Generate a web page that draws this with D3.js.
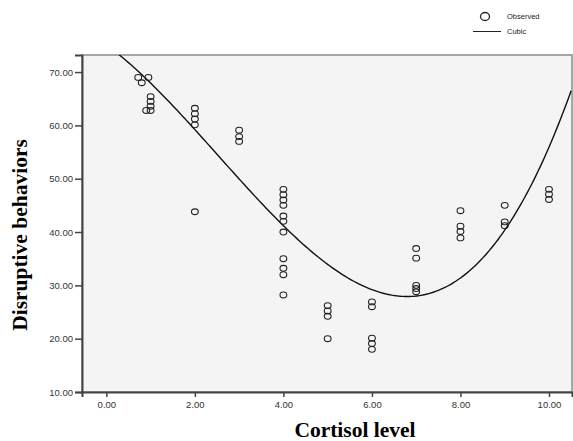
<!DOCTYPE html>
<html>
<head>
<meta charset="utf-8">
<script src="https://cdn.jsdelivr.net/npm/d3@7"></script>
<style>
  body { margin: 0; background: #fff; }
  svg { display: block; }
</style>
</head>
<body>
<svg id="chart" width="573" height="441"></svg>
<script>
// observed points (cortisol level, disruptive behaviors)
const cortisol = [0.72, 0.95, 0.8, 1.0, 1.0, 1.0, 1.0, 0.9, 2, 2, 2, 2, 2,
  3, 3, 3,
  4, 4, 4, 4, 4, 4, 4, 4, 4, 4, 4,
  5, 5, 5, 5,
  6, 6, 6, 6, 6,
  7, 7, 7, 7, 7,
  8, 8, 8, 8,
  9, 9, 9,
  10, 10, 10];
const behaviors = [69, 69, 68, 65.4, 64.5, 63.6, 62.8, 62.8, 63.2, 62.2, 61.2, 60.1, 43.8,
  59.1, 57.9, 57,
  48, 47, 46, 45, 43, 42, 40, 35, 33.2, 32, 28.2,
  26.2, 25.2, 24.2, 20,
  26.9, 26, 20.1, 19.1, 18,
  36.9, 35.1, 30, 29.4, 28.8,
  44, 41.1, 40.1, 38.9,
  45, 41.9, 41.2,
  48, 47.1, 46.1];

// points
const curveX = [0.3, 0.87, 1.93, 2.34, 2.79, 3.25, 4.0, 4.76, 5.51, 6.41, 7.17, 8.07, 8.83, 9.43, 9.88, 10.52];
const curveY = [73.2, 68.6, 60.4, 56.0, 52.0, 47.9, 41.0, 35.1, 31.0, 28.2, 28.2, 32.3, 38.5, 46.0, 53.5, 67.0];

const xTicks = [0, 2, 4, 6, 8, 10];
const yTicks = [10, 20, 30, 40, 50, 60, 70];
const xTitle = "Cortisol level";
const yTitle = "Disruptive behaviors";

const svg = d3.select("#chart");
const plotL = 82, plotR = 572, plotT = 55, plotB = 392;

const x = d3.scaleLinear().domain([-0.55, 10.52]).range([plotL, plotR]);
const y = d3.scaleLinear().domain([10, 73.2]).range([plotB, plotT]);

// plot background
svg.append("rect")
  .attr("x", plotL).attr("y", plotT)
  .attr("width", plotR - plotL).attr("height", plotB - plotT)
  .attr("fill", "#f4f4f4")
  .attr("stroke", "#8a8a8a").attr("stroke-width", 1.5);

// axes
const xAxis = svg.append("g")
  .attr("transform", `translate(0,${plotB})`)
  .call(d3.axisBottom(x).tickValues(xTicks).tickSize(5).tickPadding(4)
    .tickFormat(d3.format(".2f")));
const yAxis = svg.append("g")
  .attr("transform", `translate(${plotL},0)`)
  .call(d3.axisLeft(y).tickValues(yTicks).tickSize(7).tickPadding(2)
    .tickFormat(d3.format(".2f")));

[xAxis, yAxis].forEach(function (g) {
  g.select(".domain").attr("stroke", "#444").attr("stroke-width", 2);
  g.selectAll(".tick line").attr("stroke", "#444").attr("stroke-width", 1.5);
  g.selectAll(".tick text")
    .attr("fill", "#333")
    .style("font-family", "Arial, 'Liberation Sans', sans-serif")
    .style("font-size", "9.5px");
});

// smooth the read curve points with a least squares cubic
function cubicFit(xs, ys) {
  const n = 4;
  const A = [], b = [];
  for (let i = 0; i < n; i++) {
    A.push(new Array(n).fill(0));
    b.push(0);
  }
  xs.forEach(function (xv, k) {
    for (let i = 0; i < n; i++) {
      for (let j = 0; j < n; j++) A[i][j] += Math.pow(xv, i + j);
      b[i] += Math.pow(xv, i) * ys[k];
    }
  });
  for (let c = 0; c < n; c++) {
    let p = c;
    for (let r = c + 1; r < n; r++) if (Math.abs(A[r][c]) > Math.abs(A[p][c])) p = r;
    [A[c], A[p]] = [A[p], A[c]];
    [b[c], b[p]] = [b[p], b[c]];
    for (let r = c + 1; r < n; r++) {
      const f = A[r][c] / A[c][c];
      for (let j = c; j < n; j++) A[r][j] -= f * A[c][j];
      b[r] -= f * b[c];
    }
  }
  const coef = new Array(n).fill(0);
  for (let r = n - 1; r >= 0; r--) {
    let s = b[r];
    for (let j = r + 1; j < n; j++) s -= A[r][j] * coef[j];
    coef[r] = s / A[r][r];
  }
  return coef;
}
const coef = cubicFit(curveX, curveY);
const fitX = d3.range(-0.55, 10.53, 0.05);
const fitLine = fitX.map(v => [v, coef[0] + coef[1] * v + coef[2] * v * v + coef[3] * v * v * v]);

svg.append("clipPath").attr("id", "clip")
  .append("rect").attr("x", plotL).attr("y", plotT)
  .attr("width", plotR - plotL).attr("height", plotB - plotT);

svg.append("path")
  .datum(fitLine)
  .attr("clip-path", "url(#clip)")
  .attr("fill", "none")
  .attr("stroke", "#111")
  .attr("stroke-width", 1.4)
  .attr("d", d3.line().x(d => x(d[0])).y(d => y(d[1])));

// observed points
svg.append("g").selectAll("ellipse")
  .data(cortisol.map((c, i) => [c, behaviors[i]]))
  .join("ellipse")
  .attr("cx", d => x(d[0]))
  .attr("cy", d => y(d[1]))
  .attr("rx", 3.4).attr("ry", 2.9)
  .attr("fill", "none")
  .attr("stroke", "#222")
  .attr("stroke-width", 1.1);

// titles
svg.append("text")
  .attr("x", 355).attr("y", 437)
  .attr("text-anchor", "middle")
  .style("font-family", "'Liberation Serif', 'Times New Roman', serif")
  .style("font-weight", "bold")
  .style("font-size", "21.5px")
  .text(xTitle);

svg.append("text")
  .attr("transform", "translate(27,235) rotate(-90)")
  .attr("text-anchor", "middle")
  .style("font-family", "'Liberation Serif', 'Times New Roman', serif")
  .style("font-weight", "bold")
  .style("font-size", "21.5px")
  .text(yTitle);

// legend
const legend = svg.append("g")
  .style("font-family", "Arial, 'Liberation Sans', sans-serif")
  .style("font-size", "7.5px")
  .attr("fill", "#222");
legend.append("ellipse")
  .attr("cx", 485).attr("cy", 16.5).attr("rx", 4.5).attr("ry", 4)
  .attr("fill", "none").attr("stroke", "#222").attr("stroke-width", 1.3);
legend.append("text").attr("x", 507).attr("y", 19).text("Observed");
legend.append("line")
  .attr("x1", 473).attr("x2", 501).attr("y1", 31.5).attr("y2", 31.5)
  .attr("stroke", "#222").attr("stroke-width", 1);
legend.append("text").attr("x", 507).attr("y", 34.3).text("Cubic");
</script>
</body>
</html>
